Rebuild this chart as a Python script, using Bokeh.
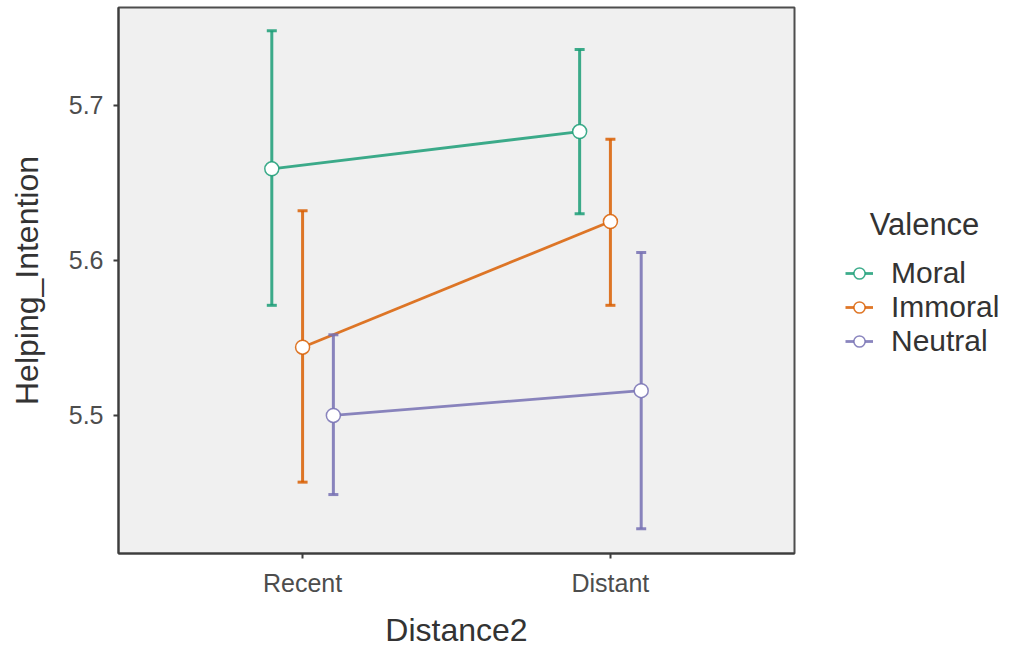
from bokeh.plotting import figure
from bokeh.layouts import row
from bokeh.models import ColumnDataSource, FactorRange, Range1d, FixedTicker, Legend, LegendItem, Label
from bokeh.transform import dodge
from bokeh.embed import file_html
from bokeh.resources import INLINE

distance = ["Recent", "Distant"]
valence = ["Moral", "Immoral", "Neutral"]
colors = ["#1B9E77", "#D95F02", "#7570B3"]
offsets = [-0.1, 0.0, 0.1]

moral_mean = [5.659, 5.683]
moral_lower = [5.571, 5.630]
moral_upper = [5.748, 5.736]

immoral_mean = [5.544, 5.625]
immoral_lower = [5.457, 5.571]
immoral_upper = [5.632, 5.678]

neutral_mean = [5.500, 5.516]
neutral_lower = [5.449, 5.427]
neutral_upper = [5.552, 5.605]

y_ticks = [5.5, 5.6, 5.7]

series = [
    (moral_mean, moral_lower, moral_upper),
    (immoral_mean, immoral_lower, immoral_upper),
    (neutral_mean, neutral_lower, neutral_upper),
]

FONT = "Liberation Sans"
ALPHA = 0.85
H = 650

p = figure(
    width=800, height=H,
    x_range=FactorRange(factors=distance, range_padding=0.098, range_padding_units="absolute"),
    y_range=Range1d(5.411, 5.763),
    output_backend="svg", toolbar_location=None,
    min_border_left=118, min_border_right=6, min_border_top=7, min_border_bottom=94,
    background_fill_color="#F0F0F0", border_fill_color="white",
    outline_line_color="#4d4d4d", outline_line_width=2,
)
p.grid.visible = False

for ax in (p.xaxis, p.yaxis):
    ax.axis_line_color = "#3d3d3d"
    ax.axis_line_width = 2
    ax.major_tick_line_color = "#3d3d3d"
    ax.major_tick_line_width = 2
    ax.major_tick_out = 5
    ax.major_tick_in = 0
    ax.minor_tick_line_color = None
    ax.major_label_text_font = FONT
    ax.major_label_text_font_size = "25px"
    ax.major_label_text_color = "#4d4d4d"
    ax.axis_label_text_font = FONT
    ax.axis_label_text_font_size = "32px"
    ax.axis_label_text_font_style = "normal"
    ax.axis_label_text_color = "#333333"

p.yaxis.ticker = FixedTicker(ticks=y_ticks)
p.xaxis.axis_label = "Distance2"
p.yaxis.axis_label = "Helping_Intention"
p.xaxis.major_label_standoff = 10
p.yaxis.major_label_standoff = 10
p.xaxis.axis_label_standoff = 12
p.yaxis.axis_label_standoff = 21

for name, col, off, (m, lo, up) in zip(valence, colors, offsets, series):
    src = ColumnDataSource(dict(dist=distance, mean=m, lower=lo, upper=up))
    xs = dodge("dist", off, range=p.x_range)
    p.segment(x0=xs, y0="lower", x1=xs, y1="upper", source=src,
              line_color=col, line_alpha=ALPHA, line_width=3)
    p.dash(x=xs, y="upper", source=src, size=10, line_color=col, line_alpha=ALPHA, line_width=3)
    p.dash(x=xs, y="lower", source=src, size=10, line_color=col, line_alpha=ALPHA, line_width=3)
    p.line(x=xs, y="mean", source=src, line_color=col, line_alpha=ALPHA, line_width=2.8)
    p.scatter(x=xs, y="mean", source=src, size=14, fill_color="white",
              line_color=col, line_alpha=ALPHA, line_width=1.5)

# legend panel (its key glyphs come from the same series, kept outside its visible range)
q = figure(
    width=216, height=H, x_range=FactorRange(factors=distance), y_range=Range1d(0, 1),
    output_backend="svg", toolbar_location=None,
    x_axis_type=None, y_axis_type=None,
    min_border=0, outline_line_color=None,
    background_fill_color="white", border_fill_color="white",
)
q.grid.visible = False

items = []
for name, col, (m, lo, up) in zip(valence, colors, series):
    src = ColumnDataSource(dict(dist=distance, mean=m))
    ln = q.line(x="dist", y="mean", source=src, line_color=col, line_alpha=ALPHA, line_width=2.8)
    sc = q.scatter(x="dist", y="mean", source=src, size=14, fill_color="white",
                   line_color=col, line_alpha=ALPHA, line_width=1.5)
    items.append(LegendItem(label=name, renderers=[ln, sc]))

legend = Legend(
    items=items, location=(45, 195),
    padding=0, margin=0, spacing=0,
    glyph_width=28, glyph_height=30, label_height=30, label_standoff=18,
    label_text_font=FONT, label_text_font_size="30px", label_text_color="#333333",
    border_line_color=None, background_fill_alpha=0,
)
q.add_layout(legend, "center")

title = Label(x=124, y=329, x_units="screen", y_units="screen", text="Valence",
              text_align="center", text_baseline="alphabetic",
              text_font=FONT, text_font_size="31px", text_color="#333333")
q.add_layout(title)

layout = row(p, q)
open("out.html", "w").write(file_html(layout, INLINE))
